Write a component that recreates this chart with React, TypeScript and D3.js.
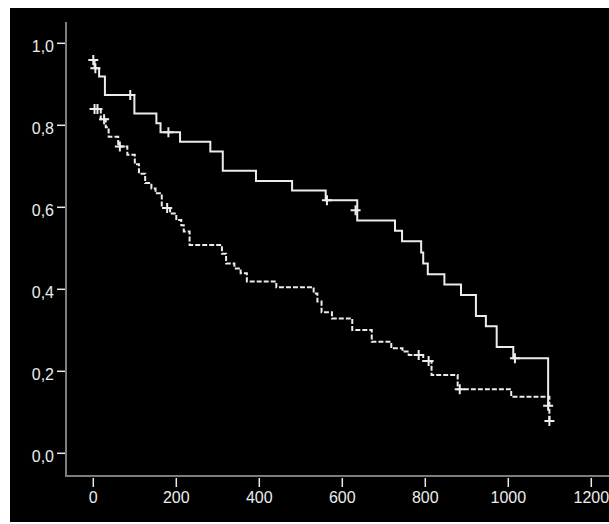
import React from 'react';
import * as d3 from 'd3';

// Kaplan-Meier steps: [time, survival after the drop]
const solidTimes = [0, 3, 14, 28, 99, 152, 162, 209, 282, 312, 392, 479, 560, 636, 727, 744, 790, 795, 806, 846, 886, 922, 946, 972, 1012, 1096];
const solidSurv = [0.959, 0.939, 0.919, 0.874, 0.829, 0.805, 0.783, 0.76, 0.736, 0.689, 0.664, 0.641, 0.617, 0.568, 0.543, 0.517, 0.49, 0.463, 0.437, 0.412, 0.386, 0.335, 0.31, 0.259, 0.232, 0.116];
const solidCensorTimes = [0, 5, 89, 181, 563, 632, 1016, 1096];
const solidCensorSurv = [0.959, 0.939, 0.874, 0.783, 0.617, 0.593, 0.232, 0.116];

const dashedTimes = [0, 18, 30, 37, 60, 82, 100, 110, 125, 140, 150, 165, 185, 200, 212, 218, 232, 310, 320, 340, 355, 370, 441, 531, 540, 550, 575, 624, 671, 718, 745, 760, 795, 815, 878, 1007, 1099];
const dashedSurv = [0.84, 0.815, 0.795, 0.772, 0.748, 0.728, 0.705, 0.682, 0.659, 0.646, 0.634, 0.598, 0.585, 0.569, 0.556, 0.541, 0.508, 0.487, 0.463, 0.451, 0.439, 0.419, 0.405, 0.39, 0.37, 0.344, 0.329, 0.301, 0.272, 0.256, 0.248, 0.24, 0.225, 0.191, 0.156, 0.138, 0.079];
const dashedCensorTimes = [3, 10, 26, 64, 178, 784, 808, 883, 1099];
const dashedCensorSurv = [0.84, 0.84, 0.815, 0.748, 0.598, 0.24, 0.225, 0.156, 0.079];

const xTicks = [0, 200, 400, 600, 800, 1000, 1200];
const yTicks = [0, 0.2, 0.4, 0.6, 0.8, 1.0];
const yTickLabels = ['0,0', '0,2', '0,4', '0,6', '0,8', '1,0'];

const W = 609;
const H = 524;
const axisColor = '#7d7d7d';
const inkColor = '#ececec';
const font = '"Liberation Sans", Arial, sans-serif';

function crossPath(cx, cy, r = 5) {
  return `M${cx - r},${cy}h${2 * r}M${cx},${cy - r}v${2 * r}`;
}

export default function App() {
  const x = d3.scaleLinear().domain([0, 1200]).range([93.3, 591.3]);
  const y = d3.scaleLinear().domain([0, 1]).range([453.3, 43.3]);

  const step = d3
    .line<[number, number]>()
    .x((d) => x(d[0]))
    .y((d) => y(d[1]))
    .curve(d3.curveStepAfter);

  const solidPts = solidTimes.map((t, i) => [t, solidSurv[i]] as [number, number]);
  const dashedPts = dashedTimes.map((t, i) => [t, dashedSurv[i]] as [number, number]);

  const axisLeft = 66;
  const axisBottom = 476;

  return (
    <svg
      width={W}
      height={H}
      style={{ position: 'absolute', left: 0, top: 0, display: 'block' }}
    >
      <rect x={0} y={0} width={W} height={H} fill="#fff" />
      <rect x={10} y={8} width={W - 10} height={514} fill="#000" />

      {/* axes */}
      <line x1={axisLeft} x2={axisLeft} y1={22} y2={axisBottom + 1} stroke={axisColor} strokeWidth={2} />
      <line x1={axisLeft} x2={W} y1={axisBottom} y2={axisBottom} stroke={axisColor} strokeWidth={2} />

      {yTicks.map((v, i) => (
        <g key={`y${i}`}>
          <line x1={57} x2={65} y1={y(v)} y2={y(v)} stroke={inkColor} strokeWidth={1.5} />
          <text
            x={54}
            y={y(v) + 8.5}
            textAnchor="end"
            fill={inkColor}
            fontFamily={font}
            fontSize={16}
          >
            {yTickLabels[i]}
          </text>
        </g>
      ))}

      {xTicks.map((v) => (
        <g key={`x${v}`}>
          <line x1={x(v)} x2={x(v)} y1={478} y2={487} stroke={inkColor} strokeWidth={1.5} />
          <text
            x={x(v)}
            y={503}
            textAnchor="middle"
            fill={inkColor}
            fontFamily={font}
            fontSize={16}
          >
            {v}
          </text>
        </g>
      ))}

      {/* curves */}
      <path d={step(dashedPts) || ''} fill="none" stroke={inkColor} strokeWidth={2} strokeDasharray="5,2" />
      <path d={step(solidPts) || ''} fill="none" stroke={inkColor} strokeWidth={2} />

      {solidCensorTimes.map((t, i) => (
        <path key={`sc${i}`} d={crossPath(x(t), y(solidCensorSurv[i]))} stroke={inkColor} strokeWidth={2} fill="none" />
      ))}
      {dashedCensorTimes.map((t, i) => (
        <path key={`dc${i}`} d={crossPath(x(t), y(dashedCensorSurv[i]))} stroke={inkColor} strokeWidth={2} fill="none" />
      ))}
    </svg>
  );
}
